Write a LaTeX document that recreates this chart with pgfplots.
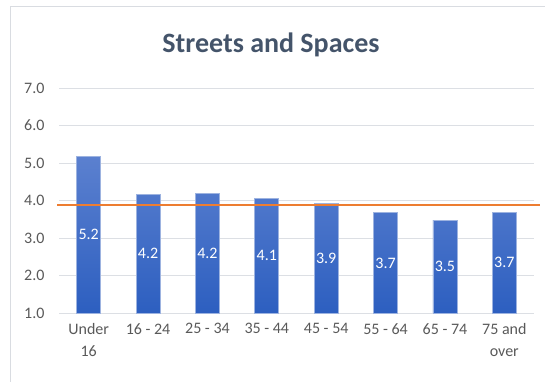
\documentclass[border=0pt]{standalone}
\usepackage{pgfplots}
\pgfplotsset{compat=1.18}
\usepackage{pgfplotstable}
\usepackage{fontspec}
\setmainfont{Carlito}
\definecolor{barTop}{HTML}{5B80CF}
\definecolor{barBot}{HTML}{2D5FC0}
\definecolor{barEdge}{HTML}{9DB3E0}
\definecolor{gridc}{HTML}{DCDFE4}
\definecolor{tickc}{HTML}{595959}
\definecolor{titlec}{HTML}{44546A}
\definecolor{orangec}{HTML}{ED7D31}
\definecolor{framec}{HTML}{D9DCE1}

\pgfplotstableread{
x v lab
0 5.17 5.2
1 4.17 4.2
2 4.20 4.2
3 4.06 4.1
4 3.92 3.9
5 3.67 3.7
6 3.48 3.5
7 3.69 3.7
}\datatable

\begin{document}
\begin{tikzpicture}[x=1pt,y=1pt]
\clip (0,0) rectangle (545,381);
\draw[framec, line width=1pt] (10.5,-10) rectangle (600,374.5);
\node[font=\fontsize{28}{32}\selectfont\bfseries, text=titlec] at (271,336) {Streets and Spaces};
\begin{axis}[
  at={(59pt,68pt)}, anchor=south west, scale only axis,
  width=475pt, height=225pt,
  xmin=-0.5, xmax=7.5, ymin=1, ymax=7,
  axis line style={draw=none}, major tick style={draw=none},
  ymajorgrids, grid style={gridc, line width=1pt},
  ytick={1,2,3,4,5,6,7},
  /pgf/number format/assume math mode=true,
  yticklabel={\pgfmathprintnumber[fixed,fixed zerofill,precision=1]{\tick}},
  yticklabel style={text=tickc, font=\fontsize{16}{19}\selectfont, xshift=-11pt},
  xtick={0,...,7},
  xticklabels={{Under\\16},{16 - 24},{25 - 34},{35 - 44},{45 - 54},{55 - 64},{65 - 74},{75 and\\over}},
  xticklabel style={text=tickc, align=center, font=\fontsize{16}{22}\selectfont, yshift=-7pt},
]
\addplot[ybar, bar width=24pt, draw=barEdge, line width=0.8pt, top color=barTop, bottom color=barBot]
  table[x=x, y=v] {\datatable};
\addplot[only marks, mark=none, nodes near coords, point meta=explicit symbolic,
  nodes near coords style={text=white, anchor=center, font=\fontsize{16}{19}\selectfont}]
  table[x=x, y expr={(\thisrow{v}+1)/2}, meta=lab] {\datatable};
\end{axis}
\begin{axis}[
  at={(59pt,68pt)}, anchor=south west, scale only axis,
  width=475pt, height=225pt,
  xmin=-0.5, xmax=7.5, ymin=1, ymax=7,
  hide axis, clip=false,
]
\addplot[orangec, line width=2.5pt] coordinates {(-0.53,3.88) (7.6,3.88)};
\end{axis}
\end{tikzpicture}
\end{document}
